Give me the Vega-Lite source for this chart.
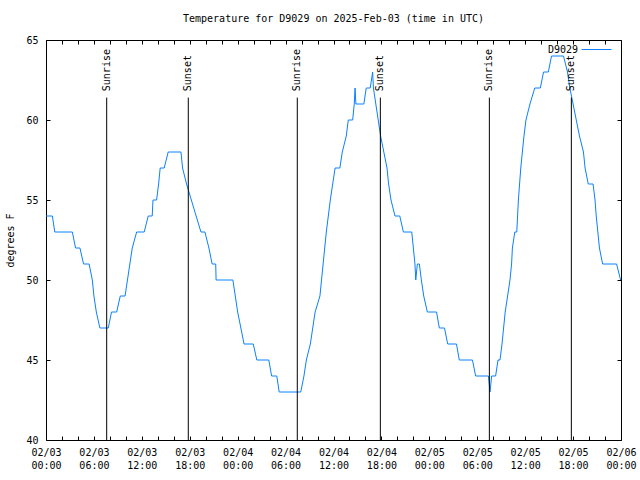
{
  "$schema": "https://vega.github.io/schema/vega-lite/v6.json",
  "width": 575,
  "height": 400,
  "autosize": {"type": "none"},
  "padding": {"left": 46, "top": 40, "right": 19, "bottom": 40},
  "background": "white",
  "title": {"text": "Temperature for D9029 on 2025-Feb-03 (time in UTC)", "font": "DejaVu Sans Mono", "fontSize": 10, "fontWeight": "normal", "color": "black", "anchor": "middle", "offset": 10},
  "config": {
    "font": "DejaVu Sans Mono",
    "view": {"stroke": "black", "strokeWidth": 1},
    "axis": {"labelFont": "DejaVu Sans Mono", "labelFontSize": 10, "labelColor": "black", "titleFont": "DejaVu Sans Mono", "titleFontSize": 10, "titleFontWeight": "normal", "titleColor": "black", "tickColor": "black", "grid": false, "domain": false, "tickSize": -4}
  },
  "datasets": {
    "temp": [
      {"t": "2025-02-03T00:00:00Z", "temp": 54, "station": "D9029"},
      {"t": "2025-02-03T00:48:00Z", "temp": 54, "station": "D9029"},
      {"t": "2025-02-03T01:06:00Z", "temp": 53, "station": "D9029"},
      {"t": "2025-02-03T03:18:00Z", "temp": 53, "station": "D9029"},
      {"t": "2025-02-03T03:42:00Z", "temp": 52, "station": "D9029"},
      {"t": "2025-02-03T04:15:00Z", "temp": 52, "station": "D9029"},
      {"t": "2025-02-03T04:42:00Z", "temp": 51, "station": "D9029"},
      {"t": "2025-02-03T05:24:00Z", "temp": 51, "station": "D9029"},
      {"t": "2025-02-03T05:48:00Z", "temp": 50, "station": "D9029"},
      {"t": "2025-02-03T06:00:00Z", "temp": 49, "station": "D9029"},
      {"t": "2025-02-03T06:18:00Z", "temp": 48, "station": "D9029"},
      {"t": "2025-02-03T06:45:00Z", "temp": 47, "station": "D9029"},
      {"t": "2025-02-03T07:48:00Z", "temp": 47, "station": "D9029"},
      {"t": "2025-02-03T08:12:00Z", "temp": 48, "station": "D9029"},
      {"t": "2025-02-03T08:51:00Z", "temp": 48, "station": "D9029"},
      {"t": "2025-02-03T09:18:00Z", "temp": 49, "station": "D9029"},
      {"t": "2025-02-03T09:54:00Z", "temp": 49, "station": "D9029"},
      {"t": "2025-02-03T10:12:00Z", "temp": 50, "station": "D9029"},
      {"t": "2025-02-03T10:30:00Z", "temp": 51, "station": "D9029"},
      {"t": "2025-02-03T10:48:00Z", "temp": 52, "station": "D9029"},
      {"t": "2025-02-03T11:21:00Z", "temp": 53, "station": "D9029"},
      {"t": "2025-02-03T12:18:00Z", "temp": 53, "station": "D9029"},
      {"t": "2025-02-03T12:48:00Z", "temp": 54, "station": "D9029"},
      {"t": "2025-02-03T13:18:00Z", "temp": 54, "station": "D9029"},
      {"t": "2025-02-03T13:24:00Z", "temp": 55, "station": "D9029"},
      {"t": "2025-02-03T13:51:00Z", "temp": 55, "station": "D9029"},
      {"t": "2025-02-03T14:06:00Z", "temp": 56, "station": "D9029"},
      {"t": "2025-02-03T14:18:00Z", "temp": 57, "station": "D9029"},
      {"t": "2025-02-03T14:48:00Z", "temp": 57, "station": "D9029"},
      {"t": "2025-02-03T15:18:00Z", "temp": 58, "station": "D9029"},
      {"t": "2025-02-03T16:54:00Z", "temp": 58, "station": "D9029"},
      {"t": "2025-02-03T17:06:00Z", "temp": 57, "station": "D9029"},
      {"t": "2025-02-03T17:36:00Z", "temp": 56, "station": "D9029"},
      {"t": "2025-02-03T18:12:00Z", "temp": 55, "station": "D9029"},
      {"t": "2025-02-03T18:48:00Z", "temp": 54, "station": "D9029"},
      {"t": "2025-02-03T19:24:00Z", "temp": 53, "station": "D9029"},
      {"t": "2025-02-03T19:54:00Z", "temp": 53, "station": "D9029"},
      {"t": "2025-02-03T20:24:00Z", "temp": 52, "station": "D9029"},
      {"t": "2025-02-03T20:48:00Z", "temp": 51, "station": "D9029"},
      {"t": "2025-02-03T21:15:00Z", "temp": 51, "station": "D9029"},
      {"t": "2025-02-03T21:18:00Z", "temp": 50, "station": "D9029"},
      {"t": "2025-02-03T23:24:00Z", "temp": 50, "station": "D9029"},
      {"t": "2025-02-03T23:42:00Z", "temp": 49, "station": "D9029"},
      {"t": "2025-02-04T00:00:00Z", "temp": 48, "station": "D9029"},
      {"t": "2025-02-04T00:24:00Z", "temp": 47, "station": "D9029"},
      {"t": "2025-02-04T00:48:00Z", "temp": 46, "station": "D9029"},
      {"t": "2025-02-04T01:57:00Z", "temp": 46, "station": "D9029"},
      {"t": "2025-02-04T02:24:00Z", "temp": 45, "station": "D9029"},
      {"t": "2025-02-04T03:54:00Z", "temp": 45, "station": "D9029"},
      {"t": "2025-02-04T04:15:00Z", "temp": 44, "station": "D9029"},
      {"t": "2025-02-04T04:54:00Z", "temp": 44, "station": "D9029"},
      {"t": "2025-02-04T05:12:00Z", "temp": 43, "station": "D9029"},
      {"t": "2025-02-04T07:54:00Z", "temp": 43, "station": "D9029"},
      {"t": "2025-02-04T08:18:00Z", "temp": 44, "station": "D9029"},
      {"t": "2025-02-04T08:36:00Z", "temp": 45, "station": "D9029"},
      {"t": "2025-02-04T09:06:00Z", "temp": 46, "station": "D9029"},
      {"t": "2025-02-04T09:24:00Z", "temp": 47, "station": "D9029"},
      {"t": "2025-02-04T09:42:00Z", "temp": 48, "station": "D9029"},
      {"t": "2025-02-04T10:18:00Z", "temp": 49, "station": "D9029"},
      {"t": "2025-02-04T10:30:00Z", "temp": 50, "station": "D9029"},
      {"t": "2025-02-04T10:42:00Z", "temp": 51, "station": "D9029"},
      {"t": "2025-02-04T10:54:00Z", "temp": 52, "station": "D9029"},
      {"t": "2025-02-04T11:06:00Z", "temp": 53, "station": "D9029"},
      {"t": "2025-02-04T11:21:00Z", "temp": 54, "station": "D9029"},
      {"t": "2025-02-04T11:36:00Z", "temp": 55, "station": "D9029"},
      {"t": "2025-02-04T11:54:00Z", "temp": 56, "station": "D9029"},
      {"t": "2025-02-04T12:12:00Z", "temp": 57, "station": "D9029"},
      {"t": "2025-02-04T12:48:00Z", "temp": 57, "station": "D9029"},
      {"t": "2025-02-04T13:06:00Z", "temp": 58, "station": "D9029"},
      {"t": "2025-02-04T13:36:00Z", "temp": 59, "station": "D9029"},
      {"t": "2025-02-04T13:51:00Z", "temp": 60, "station": "D9029"},
      {"t": "2025-02-04T14:24:00Z", "temp": 60, "station": "D9029"},
      {"t": "2025-02-04T14:36:00Z", "temp": 61, "station": "D9029"},
      {"t": "2025-02-04T14:42:00Z", "temp": 62, "station": "D9029"},
      {"t": "2025-02-04T14:48:00Z", "temp": 61, "station": "D9029"},
      {"t": "2025-02-04T15:48:00Z", "temp": 61, "station": "D9029"},
      {"t": "2025-02-04T16:06:00Z", "temp": 62, "station": "D9029"},
      {"t": "2025-02-04T16:36:00Z", "temp": 62, "station": "D9029"},
      {"t": "2025-02-04T16:54:00Z", "temp": 63, "station": "D9029"},
      {"t": "2025-02-04T17:00:00Z", "temp": 62, "station": "D9029"},
      {"t": "2025-02-04T17:18:00Z", "temp": 61, "station": "D9029"},
      {"t": "2025-02-04T17:36:00Z", "temp": 60, "station": "D9029"},
      {"t": "2025-02-04T17:54:00Z", "temp": 59, "station": "D9029"},
      {"t": "2025-02-04T18:18:00Z", "temp": 58, "station": "D9029"},
      {"t": "2025-02-04T18:42:00Z", "temp": 57, "station": "D9029"},
      {"t": "2025-02-04T18:54:00Z", "temp": 56, "station": "D9029"},
      {"t": "2025-02-04T19:12:00Z", "temp": 55, "station": "D9029"},
      {"t": "2025-02-04T19:42:00Z", "temp": 54, "station": "D9029"},
      {"t": "2025-02-04T20:18:00Z", "temp": 54, "station": "D9029"},
      {"t": "2025-02-04T20:45:00Z", "temp": 53, "station": "D9029"},
      {"t": "2025-02-04T21:48:00Z", "temp": 53, "station": "D9029"},
      {"t": "2025-02-04T22:00:00Z", "temp": 52, "station": "D9029"},
      {"t": "2025-02-04T22:12:00Z", "temp": 51, "station": "D9029"},
      {"t": "2025-02-04T22:18:00Z", "temp": 50, "station": "D9029"},
      {"t": "2025-02-04T22:30:00Z", "temp": 51, "station": "D9029"},
      {"t": "2025-02-04T22:45:00Z", "temp": 51, "station": "D9029"},
      {"t": "2025-02-04T23:00:00Z", "temp": 50, "station": "D9029"},
      {"t": "2025-02-04T23:18:00Z", "temp": 49, "station": "D9029"},
      {"t": "2025-02-04T23:45:00Z", "temp": 48, "station": "D9029"},
      {"t": "2025-02-05T00:54:00Z", "temp": 48, "station": "D9029"},
      {"t": "2025-02-05T01:15:00Z", "temp": 47, "station": "D9029"},
      {"t": "2025-02-05T01:54:00Z", "temp": 47, "station": "D9029"},
      {"t": "2025-02-05T02:18:00Z", "temp": 46, "station": "D9029"},
      {"t": "2025-02-05T03:24:00Z", "temp": 46, "station": "D9029"},
      {"t": "2025-02-05T03:45:00Z", "temp": 45, "station": "D9029"},
      {"t": "2025-02-05T05:24:00Z", "temp": 45, "station": "D9029"},
      {"t": "2025-02-05T05:48:00Z", "temp": 44, "station": "D9029"},
      {"t": "2025-02-05T07:24:00Z", "temp": 44, "station": "D9029"},
      {"t": "2025-02-05T07:36:00Z", "temp": 43, "station": "D9029"},
      {"t": "2025-02-05T07:48:00Z", "temp": 44, "station": "D9029"},
      {"t": "2025-02-05T08:18:00Z", "temp": 44, "station": "D9029"},
      {"t": "2025-02-05T08:36:00Z", "temp": 45, "station": "D9029"},
      {"t": "2025-02-05T08:51:00Z", "temp": 45, "station": "D9029"},
      {"t": "2025-02-05T09:06:00Z", "temp": 46, "station": "D9029"},
      {"t": "2025-02-05T09:18:00Z", "temp": 47, "station": "D9029"},
      {"t": "2025-02-05T09:30:00Z", "temp": 48, "station": "D9029"},
      {"t": "2025-02-05T09:48:00Z", "temp": 49, "station": "D9029"},
      {"t": "2025-02-05T10:06:00Z", "temp": 50, "station": "D9029"},
      {"t": "2025-02-05T10:18:00Z", "temp": 51, "station": "D9029"},
      {"t": "2025-02-05T10:24:00Z", "temp": 52, "station": "D9029"},
      {"t": "2025-02-05T10:42:00Z", "temp": 53, "station": "D9029"},
      {"t": "2025-02-05T10:57:00Z", "temp": 53, "station": "D9029"},
      {"t": "2025-02-05T11:03:00Z", "temp": 54, "station": "D9029"},
      {"t": "2025-02-05T11:09:00Z", "temp": 55, "station": "D9029"},
      {"t": "2025-02-05T11:18:00Z", "temp": 56, "station": "D9029"},
      {"t": "2025-02-05T11:27:00Z", "temp": 57, "station": "D9029"},
      {"t": "2025-02-05T11:39:00Z", "temp": 58, "station": "D9029"},
      {"t": "2025-02-05T11:51:00Z", "temp": 59, "station": "D9029"},
      {"t": "2025-02-05T12:06:00Z", "temp": 60, "station": "D9029"},
      {"t": "2025-02-05T12:36:00Z", "temp": 61, "station": "D9029"},
      {"t": "2025-02-05T13:12:00Z", "temp": 62, "station": "D9029"},
      {"t": "2025-02-05T13:54:00Z", "temp": 62, "station": "D9029"},
      {"t": "2025-02-05T14:18:00Z", "temp": 63, "station": "D9029"},
      {"t": "2025-02-05T14:54:00Z", "temp": 63, "station": "D9029"},
      {"t": "2025-02-05T15:18:00Z", "temp": 64, "station": "D9029"},
      {"t": "2025-02-05T16:48:00Z", "temp": 64, "station": "D9029"},
      {"t": "2025-02-05T17:18:00Z", "temp": 63, "station": "D9029"},
      {"t": "2025-02-05T17:36:00Z", "temp": 62, "station": "D9029"},
      {"t": "2025-02-05T18:00:00Z", "temp": 61, "station": "D9029"},
      {"t": "2025-02-05T18:24:00Z", "temp": 60, "station": "D9029"},
      {"t": "2025-02-05T18:48:00Z", "temp": 59, "station": "D9029"},
      {"t": "2025-02-05T19:18:00Z", "temp": 58, "station": "D9029"},
      {"t": "2025-02-05T19:30:00Z", "temp": 57, "station": "D9029"},
      {"t": "2025-02-05T19:54:00Z", "temp": 56, "station": "D9029"},
      {"t": "2025-02-05T20:30:00Z", "temp": 56, "station": "D9029"},
      {"t": "2025-02-05T20:45:00Z", "temp": 55, "station": "D9029"},
      {"t": "2025-02-05T20:54:00Z", "temp": 54, "station": "D9029"},
      {"t": "2025-02-05T21:06:00Z", "temp": 53, "station": "D9029"},
      {"t": "2025-02-05T21:18:00Z", "temp": 52, "station": "D9029"},
      {"t": "2025-02-05T21:42:00Z", "temp": 51, "station": "D9029"},
      {"t": "2025-02-05T23:27:00Z", "temp": 51, "station": "D9029"},
      {"t": "2025-02-05T23:57:00Z", "temp": 50, "station": "D9029"}
    ],
    "sun": [
      {"t": "2025-02-03T07:36:00Z", "event": "Sunrise"},
      {"t": "2025-02-03T17:49:00Z", "event": "Sunset"},
      {"t": "2025-02-04T07:28:00Z", "event": "Sunrise"},
      {"t": "2025-02-04T17:52:00Z", "event": "Sunset"},
      {"t": "2025-02-05T07:31:00Z", "event": "Sunrise"},
      {"t": "2025-02-05T17:47:00Z", "event": "Sunset"}
    ]
  },
  "layer": [
    {
      "data": {"name": "temp"},
      "mark": {"type": "line", "strokeWidth": 1, "interpolate": "linear"},
      "encoding": {
        "x": {"field": "t", "type": "temporal",
          "scale": {"type": "utc", "domain": [{"year": 2025, "month": 2, "date": 3, "hours": 0, "utc": true}, {"year": 2025, "month": 2, "date": 6, "hours": 0, "utc": true}]},
          "axis": {"orient": "bottom", "title": null, "labelExpr": "utchours(datum.value) % 6 == 0 ? [utcFormat(datum.value, '%m/%d'), utcFormat(datum.value, '%H:%M')] : ''", "values": [
            {"year": 2025, "month": 2, "date": 3, "hours": 0, "utc": true},
            {"year": 2025, "month": 2, "date": 3, "hours": 2, "utc": true},
            {"year": 2025, "month": 2, "date": 3, "hours": 4, "utc": true},
            {"year": 2025, "month": 2, "date": 3, "hours": 6, "utc": true},
            {"year": 2025, "month": 2, "date": 3, "hours": 8, "utc": true},
            {"year": 2025, "month": 2, "date": 3, "hours": 10, "utc": true},
            {"year": 2025, "month": 2, "date": 3, "hours": 12, "utc": true},
            {"year": 2025, "month": 2, "date": 3, "hours": 14, "utc": true},
            {"year": 2025, "month": 2, "date": 3, "hours": 16, "utc": true},
            {"year": 2025, "month": 2, "date": 3, "hours": 18, "utc": true},
            {"year": 2025, "month": 2, "date": 3, "hours": 20, "utc": true},
            {"year": 2025, "month": 2, "date": 3, "hours": 22, "utc": true},
            {"year": 2025, "month": 2, "date": 4, "hours": 0, "utc": true},
            {"year": 2025, "month": 2, "date": 4, "hours": 2, "utc": true},
            {"year": 2025, "month": 2, "date": 4, "hours": 4, "utc": true},
            {"year": 2025, "month": 2, "date": 4, "hours": 6, "utc": true},
            {"year": 2025, "month": 2, "date": 4, "hours": 8, "utc": true},
            {"year": 2025, "month": 2, "date": 4, "hours": 10, "utc": true},
            {"year": 2025, "month": 2, "date": 4, "hours": 12, "utc": true},
            {"year": 2025, "month": 2, "date": 4, "hours": 14, "utc": true},
            {"year": 2025, "month": 2, "date": 4, "hours": 16, "utc": true},
            {"year": 2025, "month": 2, "date": 4, "hours": 18, "utc": true},
            {"year": 2025, "month": 2, "date": 4, "hours": 20, "utc": true},
            {"year": 2025, "month": 2, "date": 4, "hours": 22, "utc": true},
            {"year": 2025, "month": 2, "date": 5, "hours": 0, "utc": true},
            {"year": 2025, "month": 2, "date": 5, "hours": 2, "utc": true},
            {"year": 2025, "month": 2, "date": 5, "hours": 4, "utc": true},
            {"year": 2025, "month": 2, "date": 5, "hours": 6, "utc": true},
            {"year": 2025, "month": 2, "date": 5, "hours": 8, "utc": true},
            {"year": 2025, "month": 2, "date": 5, "hours": 10, "utc": true},
            {"year": 2025, "month": 2, "date": 5, "hours": 12, "utc": true},
            {"year": 2025, "month": 2, "date": 5, "hours": 14, "utc": true},
            {"year": 2025, "month": 2, "date": 5, "hours": 16, "utc": true},
            {"year": 2025, "month": 2, "date": 5, "hours": 18, "utc": true},
            {"year": 2025, "month": 2, "date": 5, "hours": 20, "utc": true},
            {"year": 2025, "month": 2, "date": 5, "hours": 22, "utc": true},
            {"year": 2025, "month": 2, "date": 6, "hours": 0, "utc": true}
          ], "labelAngle": 0, "labelAlign": "center", "labelBaseline": "top", "labelPadding": 11, "labelLineHeight": 13, "labelFlush": false, "labelOverlap": false}},
        "y": {"field": "temp", "type": "quantitative",
          "scale": {"domain": [40, 65], "nice": false, "zero": false},
          "axis": {"orient": "left", "title": "degrees F", "values": [40, 45, 50, 55, 60, 65], "labelPadding": 12, "titlePadding": 10, "labelFlush": false}},
        "color": {"field": "station", "type": "nominal",
          "scale": {"range": ["#0a80ff"]},
          "legend": {"title": null, "orient": "none", "legendX": 535, "legendY": -6, "symbolType": "stroke", "symbolSize": 900, "symbolStrokeWidth": 1, "labelAlign": "right", "labelOffset": -34, "labelFont": "DejaVu Sans Mono", "labelFontSize": 10, "labelColor": "black", "padding": 0}}
      }
    },
    {
      "data": {"name": "sun"},
      "mark": {"type": "rule", "color": "black", "strokeWidth": 1},
      "encoding": {
        "x": {"field": "t", "type": "temporal", "axis": {"orient": "top", "title": null, "labels": false, "values": [
            {"year": 2025, "month": 2, "date": 3, "hours": 0, "utc": true},
            {"year": 2025, "month": 2, "date": 3, "hours": 2, "utc": true},
            {"year": 2025, "month": 2, "date": 3, "hours": 4, "utc": true},
            {"year": 2025, "month": 2, "date": 3, "hours": 6, "utc": true},
            {"year": 2025, "month": 2, "date": 3, "hours": 8, "utc": true},
            {"year": 2025, "month": 2, "date": 3, "hours": 10, "utc": true},
            {"year": 2025, "month": 2, "date": 3, "hours": 12, "utc": true},
            {"year": 2025, "month": 2, "date": 3, "hours": 14, "utc": true},
            {"year": 2025, "month": 2, "date": 3, "hours": 16, "utc": true},
            {"year": 2025, "month": 2, "date": 3, "hours": 18, "utc": true},
            {"year": 2025, "month": 2, "date": 3, "hours": 20, "utc": true},
            {"year": 2025, "month": 2, "date": 3, "hours": 22, "utc": true},
            {"year": 2025, "month": 2, "date": 4, "hours": 0, "utc": true},
            {"year": 2025, "month": 2, "date": 4, "hours": 2, "utc": true},
            {"year": 2025, "month": 2, "date": 4, "hours": 4, "utc": true},
            {"year": 2025, "month": 2, "date": 4, "hours": 6, "utc": true},
            {"year": 2025, "month": 2, "date": 4, "hours": 8, "utc": true},
            {"year": 2025, "month": 2, "date": 4, "hours": 10, "utc": true},
            {"year": 2025, "month": 2, "date": 4, "hours": 12, "utc": true},
            {"year": 2025, "month": 2, "date": 4, "hours": 14, "utc": true},
            {"year": 2025, "month": 2, "date": 4, "hours": 16, "utc": true},
            {"year": 2025, "month": 2, "date": 4, "hours": 18, "utc": true},
            {"year": 2025, "month": 2, "date": 4, "hours": 20, "utc": true},
            {"year": 2025, "month": 2, "date": 4, "hours": 22, "utc": true},
            {"year": 2025, "month": 2, "date": 5, "hours": 0, "utc": true},
            {"year": 2025, "month": 2, "date": 5, "hours": 2, "utc": true},
            {"year": 2025, "month": 2, "date": 5, "hours": 4, "utc": true},
            {"year": 2025, "month": 2, "date": 5, "hours": 6, "utc": true},
            {"year": 2025, "month": 2, "date": 5, "hours": 8, "utc": true},
            {"year": 2025, "month": 2, "date": 5, "hours": 10, "utc": true},
            {"year": 2025, "month": 2, "date": 5, "hours": 12, "utc": true},
            {"year": 2025, "month": 2, "date": 5, "hours": 14, "utc": true},
            {"year": 2025, "month": 2, "date": 5, "hours": 16, "utc": true},
            {"year": 2025, "month": 2, "date": 5, "hours": 18, "utc": true},
            {"year": 2025, "month": 2, "date": 5, "hours": 20, "utc": true},
            {"year": 2025, "month": 2, "date": 5, "hours": 22, "utc": true},
            {"year": 2025, "month": 2, "date": 6, "hours": 0, "utc": true}
          ]}},
        "y": {"datum": 40, "axis": {"orient": "right", "title": null, "labels": false, "values": [40, 45, 50, 55, 60, 65]}},
        "y2": {"datum": 61.4}
      }
    },
    {
      "data": {"name": "sun"},
      "mark": {"type": "text", "angle": 270, "align": "left", "baseline": "middle", "font": "DejaVu Sans Mono", "fontSize": 10, "color": "black"},
      "encoding": {
        "x": {"field": "t", "type": "temporal", "axis": null},
        "y": {"datum": 61.8, "axis": null},
        "text": {"field": "event"}
      }
    }
  ],
  "resolve": {"axis": {"x": "independent", "y": "independent"}}
}
